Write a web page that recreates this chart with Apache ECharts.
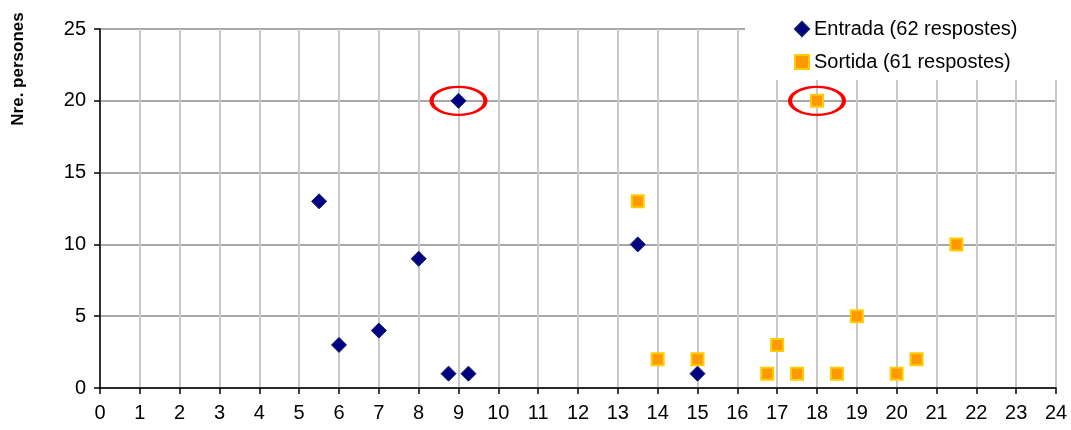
<!DOCTYPE html>
<html>
<head>
<meta charset="utf-8">
<script src="https://cdn.jsdelivr.net/npm/echarts@6/dist/echarts.min.js"></script>
<style>
html,body{margin:0;padding:0;background:#fff;}
#chart{width:1071px;height:430px;}
</style>
</head>
<body>
<div id="chart"></div>
<script>
const entradaName = 'Entrada (62 respostes)';
const sortidaName = 'Sortida (61 respostes)';
const entradaHours = [5.5, 6, 7, 8, 8.75, 9, 9.25, 13.5, 15];
const entradaPeople = [13, 3, 4, 9, 1, 20, 1, 10, 1];
const sortidaHours = [13.5, 14, 15, 16.75, 17, 17.5, 18, 18.5, 19, 20, 20.5, 21.5];
const sortidaPeople = [13, 2, 2, 1, 3, 1, 20, 1, 5, 1, 2, 10];
const highlightHours = [9, 18];
const highlightPeople = [20, 20];
const yAxisTitle = 'Nre. persones';

const pair = (xs, ys) => xs.map((x, i) => [x, ys[i]]);
const font = 'Liberation Sans, Arial, sans-serif';

const chart = echarts.init(document.getElementById('chart'), null, {renderer: 'canvas'});
chart.setOption({
  animation: false,
  backgroundColor: '#fff',
  textStyle: {fontFamily: font, color: '#000'},
  grid: {left: 100, right: 15, top: 29, bottom: 42, containLabel: false},
  graphic: [{
    type: 'text',
    x: 18,
    y: 69,
    rotation: Math.PI / 2,
    style: {
      text: yAxisTitle,
      fontFamily: font,
      fontSize: 17,
      fontWeight: 'bold',
      fill: '#000',
      textAlign: 'center',
      textVerticalAlign: 'middle'
    }
  }],
  legend: {
    data: [entradaName, sortidaName],
    orient: 'vertical',
    left: 745,
    top: 0,
    backgroundColor: '#fff',
    padding: [19, 80, 8, 49],
    itemWidth: 14,
    itemHeight: 14,
    itemGap: 13,
    textStyle: {fontFamily: font, fontSize: 20, color: '#000', lineHeight: 20}
  },
  xAxis: {
    type: 'value', min: 0, max: 24, interval: 1,
    axisLine: {show: true, onZero: false, lineStyle: {color: '#000', width: 1.5}},
    axisTick: {show: true, length: 6, lineStyle: {color: '#000', width: 1.5}},
    axisLabel: {fontFamily: font, fontSize: 20, color: '#000', margin: 15},
    splitLine: {show: true, lineStyle: {color: '#c8c8c8', width: 2}}
  },
  yAxis: {
    type: 'value', min: 0, max: 25, interval: 5,
    axisLine: {show: true, lineStyle: {color: '#000', width: 1.5}},
    axisTick: {show: true, length: 6, lineStyle: {color: '#000', width: 1.5}},
    axisLabel: {fontFamily: font, fontSize: 20, color: '#000', margin: 14},
    splitLine: {show: true, lineStyle: {color: '#a8a8a8', width: 2}}
  },
  series: [
    {
      name: entradaName,
      type: 'scatter',
      symbol: 'diamond',
      symbolSize: 15,
      data: pair(entradaHours, entradaPeople),
      itemStyle: {color: '#000080', borderColor: '#001a66', borderWidth: 1, opacity: 1},
      z: 3
    },
    {
      name: sortidaName,
      type: 'scatter',
      symbol: 'rect',
      symbolSize: 12,
      data: pair(sortidaHours, sortidaPeople),
      itemStyle: {color: '#ff9900', borderColor: '#ffcc00', borderWidth: 2, opacity: 1},
      z: 3
    },
    {
      name: 'highlight',
      type: 'scatter',
      symbol: 'circle',
      symbolSize: [54, 28],
      data: pair(highlightHours, highlightPeople),
      itemStyle: {color: 'rgba(0,0,0,0)', borderColor: '#ff0000', borderWidth: 3, opacity: 1},
      silent: true,
      z: 2
    }
  ]
});
</script>
</body>
</html>
